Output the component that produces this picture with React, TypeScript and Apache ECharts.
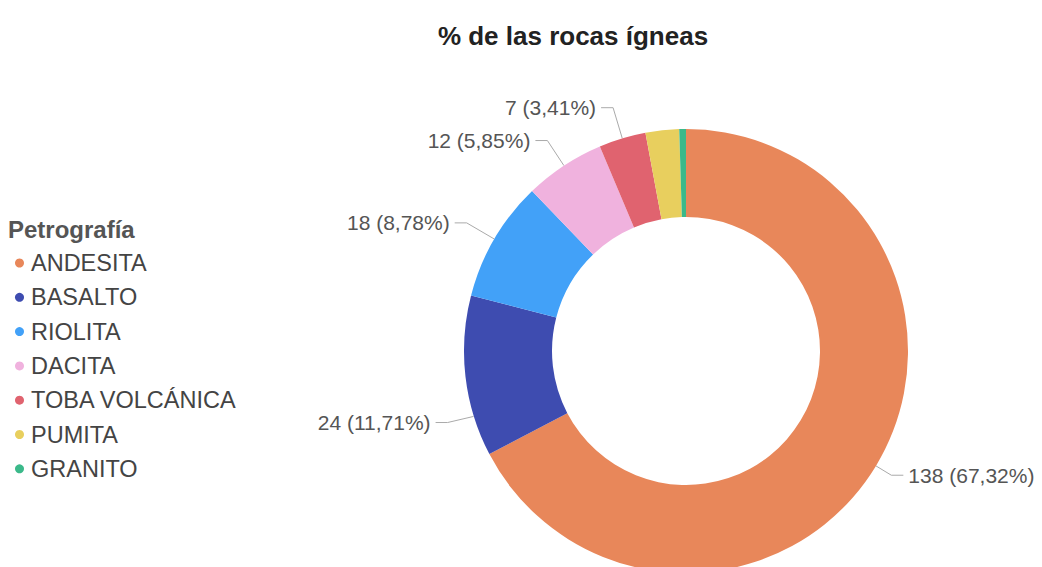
import React, { useEffect, useRef } from "react";
import * as echarts from "echarts";

const categories = ["ANDESITA", "BASALTO", "RIOLITA", "DACITA", "TOBA VOLCÁNICA", "PUMITA", "GRANITO"];
const values = [138, 24, 18, 12, 7, 5, 1];
const colors = ["#E8875A", "#3E4CB0", "#42A1F8", "#F0B2DE", "#E0636F", "#E8CF5E", "#3BB98A"];
const hiddenLabels = ["PUMITA", "GRANITO"];
const labelLineLengths = [18, 18, 32, 30, 32, 18, 18];

export default function App() {
  const ref = useRef<HTMLDivElement>(null);
  useEffect(() => {
    if (!ref.current) return;
    const chart = echarts.init(ref.current, null, { renderer: "svg" });
    const total = values.reduce((a, b) => a + b, 0);
    const font = "Arial, 'Liberation Sans', sans-serif";
    chart.setOption({
      animation: false,
      color: colors,
      title: [
        {
          text: "% de las rocas ígneas",
          left: 568,
          top: 18,
          textAlign: "center",
          textStyle: { fontFamily: font, fontSize: 26, fontWeight: "bold", color: "#222" },
        },
        {
          text: "Petrografía",
          left: 3,
          top: 212,
          textStyle: { fontFamily: font, fontSize: 24, fontWeight: "bold", color: "#555" },
        },
      ],
      legend: {
        orient: "vertical",
        left: 10,
        top: 246,
        icon: "circle",
        itemWidth: 9,
        itemHeight: 9,
        itemGap: 10.3,
        data: categories,
        textStyle: { fontFamily: font, fontSize: 23.5, color: "#444", padding: [0, 0, 0, 2], lineHeight: 24 },
      },
      series: [
        {
          type: "pie",
          center: [686, 351],
          radius: [134, 222],
          startAngle: 90,
          clockwise: true,
          avoidLabelOverlap: false,
          data: categories.map((c, i) => ({
            name: c,
            value: values[i],
            label: { show: !hiddenLabels.includes(c) },
            labelLine: { show: !hiddenLabels.includes(c), length: labelLineLengths[i] },
          })),
          label: {
            formatter: (p: any) =>
              `${p.value} (${((p.value / total) * 100).toFixed(2).replace(".", ",")}%)`,
            fontFamily: font,
            fontSize: 21,
            color: "#555",
          },
          labelLayout: (p: any) => {
            if (p.dataIndex !== 1 || !p.labelLinePoints) return {};
            const shift = 44;
            const pts = p.labelLinePoints.map((pt: number[], k: number) => [
              pt[0] + (k === 0 ? 8 : 0),
              pt[1] + shift - (k === 0 ? 4 : 0),
            ]);
            return { dy: shift, labelLinePoints: pts };
          },
          labelLine: { length: 18, length2: 12, lineStyle: { color: "#aaa", width: 1 } },
          itemStyle: { borderWidth: 0 },
          emphasis: { disabled: true },
        },
      ],
    });
    return () => chart.dispose();
  }, []);
  return (
    <div
      ref={ref}
      style={{ position: "fixed", left: 0, top: 0, width: 1042, height: 567, background: "#fff" }}
    />
  );
}
